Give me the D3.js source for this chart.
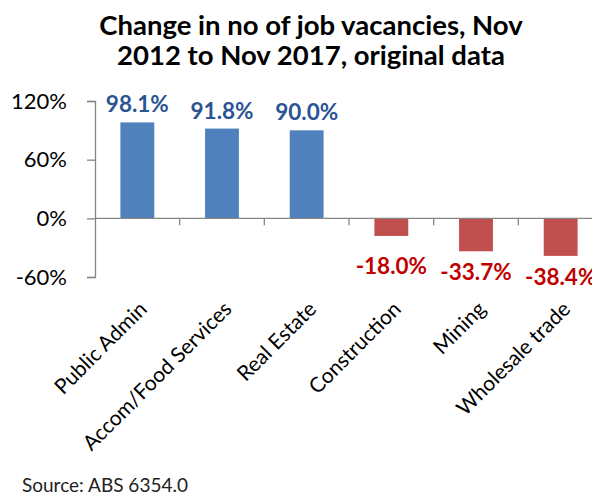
<!DOCTYPE html>
<html>
<head>
<meta charset="utf-8">
<script src="https://cdn.jsdelivr.net/npm/d3@7"></script>
<style>
  body { margin: 0; background: #fff; }
  svg { display: block; font-family: Lato, "Open Sans", sans-serif; }
</style>
</head>
<body>
<svg id="chart" width="592" height="495"></svg>
<script>
// Chart data
var categories = ['Public Admin', 'Accom/Food Services', 'Real Estate', 'Construction', 'Mining', 'Wholesale trade'];
var changes = [98.1, 91.8, 90.0, -18.0, -33.7, -38.4];
var yTicks = [-60, 0, 60, 120];
var titleLines = ['Change in no of job vacancies, Nov', '2012 to Nov 2017, original data'];
var sourceNote = 'Source: ABS 6354.0';

var svg = d3.select('#chart');

// plain hyphen for negatives, like the original
var fmt = d3.formatLocale({ decimal: '.', thousands: ',', grouping: [3], currency: ['', ''], minus: '-' })
    .format('.1f');

var x = d3.scaleBand()
    .domain(categories)
    .range([95, 603])
    .paddingInner(0.6)
    .paddingOuter(0.3);

var y = d3.scaleLinear()
    .domain([-60, 120])
    .range([277, 101]);

var axisColor = '#868686';

// title
svg.append('g')
    .selectAll('text')
    .data(titleLines)
    .enter().append('text')
    .attr('x', 311)
    .attr('y', function(d, i) { return 35 + i * 30; })
    .attr('text-anchor', 'middle')
    .style('font-size', '27.5px')
    .style('font-weight', 'bold')
    .style('fill', '#000')
    .text(function(d) { return d; });

// bars
var data = categories.map(function(c, i) { return { cat: c, value: changes[i] }; });

svg.append('g')
    .selectAll('rect')
    .data(data)
    .enter().append('rect')
    .attr('x', function(d) { return x(d.cat); })
    .attr('width', x.bandwidth())
    .attr('y', function(d) { return y(Math.max(0, d.value)); })
    .attr('height', function(d) { return Math.abs(y(d.value) - y(0)); })
    .attr('fill', function(d) { return d.value >= 0 ? '#4F81BD' : '#C0504D'; });

// y axis
var yAxis = svg.append('g')
    .attr('transform', 'translate(95,0)')
    .call(d3.axisLeft(y).tickValues(yTicks).tickSize(8).tickPadding(20)
        .tickFormat(function(d) { return d + '%'; }));
yAxis.select('.domain').attr('stroke', axisColor).attr('stroke-width', 1.3);
yAxis.selectAll('.tick line').attr('stroke', axisColor).attr('stroke-width', 1.3);
yAxis.selectAll('.tick text')
    .style('font-size', '22px')
    .style('font-family', 'Lato, sans-serif')
    .attr('fill', '#000');

// zero line with category ticks
var step = x.step();
var xAxis = svg.append('g').attr('transform', 'translate(0,' + y(0) + ')');
xAxis.append('line')
    .attr('x1', 95).attr('x2', 603)
    .attr('stroke', axisColor).attr('stroke-width', 1.3);
xAxis.selectAll('line.tk')
    .data(d3.range(1, categories.length))
    .enter().append('line')
    .attr('class', 'tk')
    .attr('x1', function(i) { return x(categories[i]) - step * x.paddingInner() / 2; })
    .attr('x2', function(i) { return x(categories[i]) - step * x.paddingInner() / 2; })
    .attr('y1', 0).attr('y2', 7)
    .attr('stroke', axisColor).attr('stroke-width', 1.3);

// category labels
svg.append('g')
    .selectAll('text')
    .data(categories)
    .enter().append('text')
    .attr('transform', function(d) {
        var cx = x(d) + x.bandwidth() / 2 + 11;
        return 'translate(' + cx + ',' + (y(0) + 92) + ') rotate(-45)';
    })
    .attr('text-anchor', 'end')
    .style('font-size', '21px')
    .style('fill', '#000')
    .text(function(d) { return d; });

// value labels
svg.append('g')
    .selectAll('text')
    .data(data)
    .enter().append('text')
    .attr('x', function(d) { return x(d.cat) + x.bandwidth() / 2; })
    .attr('y', function(d) {
        return d.value >= 0 ? y(d.value) - 10 : Math.max(y(d.value) + 29, y(0) + 56);
    })
    .attr('text-anchor', 'middle')
    .style('font-size', '22.5px')
    .style('font-weight', 'bold')
    .style('fill', function(d) { return d.value >= 0 ? '#2A5494' : '#C00000'; })
    .text(function(d) { return fmt(d.value) + '%'; });

// source
svg.append('text')
    .attr('x', 22)
    .attr('y', 492)
    .style('font-size', '19px')
    .style('fill', '#222')
    .text(sourceNote);
</script>
</body>
</html>
